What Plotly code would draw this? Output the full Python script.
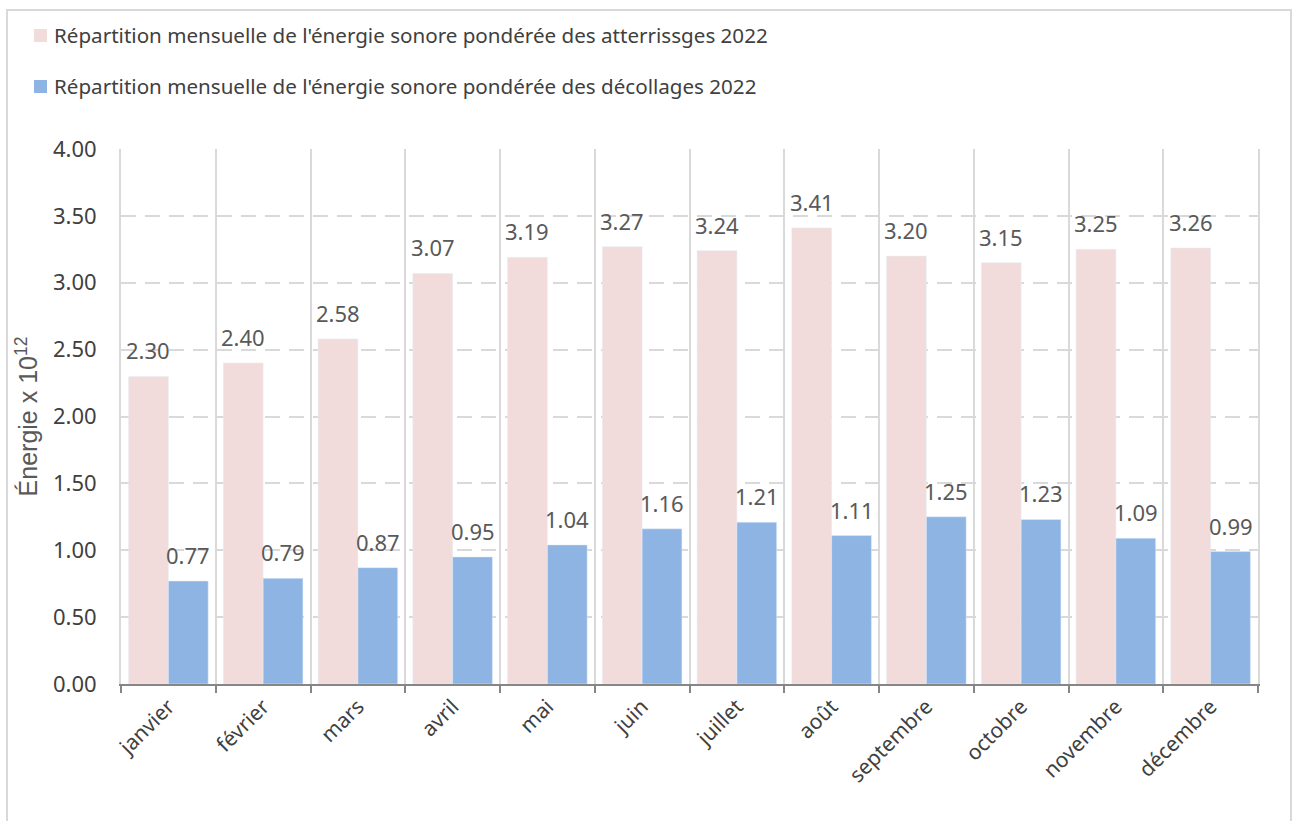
import plotly.graph_objects as go

months = ["janvier", "février", "mars", "avril", "mai", "juin", "juillet",
          "août", "septembre", "octobre", "novembre", "décembre"]
atterrissages = [2.30, 2.40, 2.58, 3.07, 3.19, 3.27, 3.24, 3.41, 3.20, 3.15, 3.25, 3.26]
decollages = [0.77, 0.79, 0.87, 0.95, 1.04, 1.16, 1.21, 1.11, 1.25, 1.23, 1.09, 0.99]
y_ticks = [0.0, 0.5, 1.0, 1.5, 2.0, 2.5, 3.0, 3.5, 4.0]

name_att = "Répartition mensuelle de l'énergie sonore pondérée des atterrissges 2022"
name_dec = "Répartition mensuelle de l'énergie sonore pondérée des décollages 2022"

FONT = "Noto Sans"
PINK = "#f2dcdb"
BLUE = "#8eb4e3"
GRID = "#d9d9d9"

W, H = 1295, 821
L, R, T, B = 121, 37, 149, 137
plot_w = W - L - R
plot_h = H - T - B


def px2x(px):
    return (px - L) / plot_w


def px2y(py):
    return (H - B - py) / plot_h


fig = go.Figure()
fig.add_trace(go.Bar(x=months, y=atterrissages, name=name_att, marker_color=PINK))
fig.add_trace(go.Bar(x=months, y=decollages, name=name_dec, marker_color=BLUE))

# value labels above each bar
cat_w = plot_w / len(months)
bargap = 0.16
half_bar = cat_w * (1 - bargap) / 4
annotations = []
for m, a, d in zip(months, atterrissages, decollages):
    for val, shift in ((a, -half_bar), (d, half_bar)):
        annotations.append(dict(
            x=m, y=val, xref="x", yref="y", text=f"{val:.2f}",
            showarrow=False, xshift=shift, yshift=26, yanchor="middle",
            font=dict(family=FONT, size=22, color="#595959")))

# legend: colour swatch + series name
shapes = []
for (name, color), cy in zip(((name_att, PINK), (name_dec, BLUE)), (35.5, 86.5)):
    shapes.append(dict(type="rect", xref="paper", yref="paper",
                       x0=px2x(34), x1=px2x(47), y0=px2y(cy + 6.5), y1=px2y(cy - 6.5),
                       line=dict(width=0), fillcolor=color))
    annotations.append(dict(x=px2x(52), y=px2y(cy), xref="paper", yref="paper",
                            text=name, showarrow=False, xanchor="left",
                            yanchor="middle",
                            font=dict(family=FONT, size=20.6, color="#404040")))

# outer frame of the chart
shapes.append(dict(type="rect", xref="paper", yref="paper",
                   x0=px2x(7), x1=px2x(1291), y0=px2y(840), y1=px2y(10),
                   line=dict(color=GRID, width=2), fillcolor="rgba(0,0,0,0)",
                   layer="below"))

fig.update_layout(
    width=W, height=H,
    margin=dict(l=L, r=R, t=T, b=B),
    paper_bgcolor="white", plot_bgcolor="white",
    barmode="group", bargap=bargap, bargroupgap=0,
    font=dict(family=FONT, color="#404040"),
    showlegend=False,
    annotations=annotations,
    shapes=shapes,
    xaxis=dict(
        type="category", tickson="boundaries", ticks="outside", ticklen=7,
        tickwidth=2, tickcolor="#868686", showline=True, linecolor="#868686",
        linewidth=2, showgrid=True, gridcolor=GRID, gridwidth=2,
        tickangle=-45, tickfont=dict(family=FONT, size=21, color="#404040"),
    ),
    yaxis=dict(
        range=[0, 4], tickvals=y_ticks, ticktext=[f"{v:.2f}" for v in y_ticks],
        showgrid=True, gridcolor=GRID, gridwidth=2, griddash="15px,9px",
        zeroline=False, showline=True, linecolor=GRID, linewidth=2, mirror=True,
        ticks="", ticklabelstandoff=18,
        tickfont=dict(family=FONT, size=22, color="#404040"),
        title=dict(text="Énergie x 10<sup style='font-size:15px'>12</sup>", standoff=8,
                   font=dict(family="Liberation Sans", size=25, color="#595959")),
    ),
)

fig.write_html("out.html")
